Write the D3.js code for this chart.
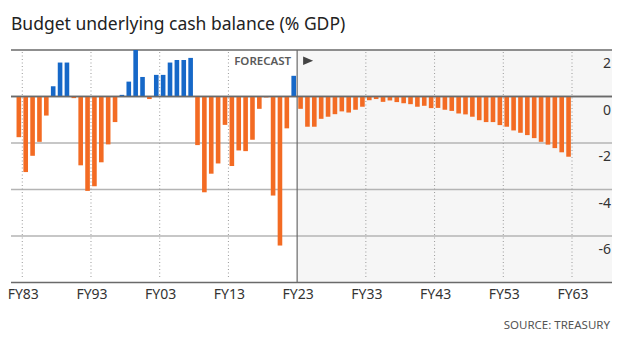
<!DOCTYPE html>
<html>
<head>
<meta charset="utf-8">
<script src="https://cdn.jsdelivr.net/npm/d3@7"></script>
<style>
    html, body { margin: 0; padding: 0; background: #fff; }
    #chart { width: 620px; height: 337px; }
    text { font-family: "Noto Sans", "Open Sans", sans-serif; }
</style>
</head>
<body>
<div id="chart"></div>
<script>
// 财年 FY83 - FY63
const years = d3.range(1983, 2064);

// 实际值 FY83 - FY23
const actualValues = [
    -1.75, -3.25, -2.55, -1.95, -0.82, 0.44, 1.46, 1.46, -0.07, -2.96,
    -4.06, -3.86, -2.83, -2.06, -1.10, 0.07, 0.64, 2.0, 0.84, -0.11,
    0.93, 0.93, 1.46, 1.57, 1.57, 1.66, -2.09, -4.12, -3.32, -2.88,
    -1.22, -2.99, -2.32, -2.35, -1.86, -0.53, -0.04, -4.26, -6.41, -1.37,
    0.89
];

// 预测值 FY24 - FY63
const forecastValues = [
    -0.53, -1.30, -1.30, -0.96, -0.87, -0.76, -0.64, -0.69, -0.57, -0.44,
    -0.16, -0.11, -0.23, -0.17, -0.24, -0.29, -0.33, -0.44, -0.40, -0.50,
    -0.49, -0.57, -0.62, -0.73, -0.77, -0.87, -1.02, -1.10, -1.10, -1.23,
    -1.30, -1.46, -1.56, -1.66, -1.79, -1.95, -2.07, -2.22, -2.40, -2.59
];

const xTickYears = [1983, 1993, 2003, 2013, 2023, 2033, 2043, 2053, 2063];
const yTicks = [2, 0, -2, -4, -6];
const forecastStart = 2023;

const width = 620;
const height = 337;
const plot = { left: 11, right: 612, top: 50, bottom: 282.5 };

const colors = {
    positive: '#1668c8',
    negative: '#f36b23',
    axisDark: '#6a6a6a',
    grid: '#b4b4b4',
    dotted: '#9a9a9a',
    text: '#333',
    muted: '#555',
    forecastBg: '#f6f6f6'
};

const fyLabel = y => 'FY' + String(y % 100).padStart(2, '0');

const data = years.map((y, i) => ({
    year: y,
    value: i < actualValues.length ? actualValues[i] : forecastValues[i - actualValues.length]
}));

const svg = d3.select('#chart')
    .append('svg')
    .attr('width', width)
    .attr('height', height)
    .attr('viewBox', [0, 0, width, height]);

const x = d3.scaleBand()
    .domain(years)
    .range([15.4, 572])
    .paddingInner(0.33)
    .paddingOuter(0.165);

// 刻度落在财年柱的右边界
const tickX = y => x(y) - x.step() * x.paddingInner() / 2 + x.step();

const yScale = d3.scaleLinear()
    .domain([2, -8])
    .range([plot.top, plot.bottom]);

// 预测区域背景
svg.append('rect')
    .attr('x', tickX(forecastStart))
    .attr('y', plot.top)
    .attr('width', plot.right - tickX(forecastStart))
    .attr('height', plot.bottom - plot.top)
    .attr('fill', colors.forecastBg);

// 横向网格线
svg.append('g')
    .selectAll('line')
    .data(yTicks.concat([-8]))
    .join('line')
    .attr('x1', plot.left)
    .attr('x2', plot.right)
    .attr('y1', d => yScale(d))
    .attr('y2', d => yScale(d))
    .attr('stroke', d => (d === 0 || d === 2 || d === -8) ? colors.axisDark : colors.grid)
    .attr('stroke-width', 1.5);

// 纵向点线
svg.append('g')
    .selectAll('line')
    .data(xTickYears.filter(y => y !== forecastStart))
    .join('line')
    .attr('x1', d => tickX(d))
    .attr('x2', d => tickX(d))
    .attr('y1', plot.top + 2)
    .attr('y2', plot.bottom - 3)
    .attr('stroke', colors.dotted)
    .attr('stroke-width', 1)
    .attr('stroke-dasharray', '1,2.5');

// 柱子
svg.append('g')
    .selectAll('rect')
    .data(data)
    .join('rect')
    .attr('x', d => x(d.year))
    .attr('width', x.bandwidth())
    .attr('y', d => yScale(Math.max(0, d.value)))
    .attr('height', d => Math.abs(yScale(d.value) - yScale(0)))
    .attr('fill', d => d.value >= 0 ? colors.positive : colors.negative);

// 零线盖在柱子上面
svg.append('line')
    .attr('x1', plot.left)
    .attr('x2', plot.right)
    .attr('y1', yScale(0))
    .attr('y2', yScale(0))
    .attr('stroke', colors.axisDark)
    .attr('stroke-width', 1.5);

// 预测分界线
svg.append('line')
    .attr('x1', tickX(forecastStart))
    .attr('x2', tickX(forecastStart))
    .attr('y1', plot.top)
    .attr('y2', plot.bottom)
    .attr('stroke', colors.axisDark)
    .attr('stroke-width', 1.2);

svg.append('text')
    .attr('x', tickX(forecastStart) - 6)
    .attr('y', 65)
    .attr('text-anchor', 'end')
    .attr('font-size', 11.5)
    .attr('font-weight', 600)
    .attr('fill', '#5a5a5a')
    .text('FORECAST');

svg.append('path')
    .attr('d', d3.line()([
        [tickX(forecastStart) + 6, 56.5],
        [tickX(forecastStart) + 16, 60.8],
        [tickX(forecastStart) + 6, 65]
    ]) + 'Z')
    .attr('fill', '#444');

// Y 轴标签
svg.append('g')
    .selectAll('text')
    .data(yTicks)
    .join('text')
    .attr('x', 611)
    .attr('y', d => yScale(d) + 18.3)
    .attr('text-anchor', 'end')
    .attr('font-size', 14)
    .attr('fill', colors.text)
    .text(d => d < 0 ? '-' + Math.abs(d) : d);

// X 轴标签
svg.append('g')
    .selectAll('text')
    .data(xTickYears)
    .join('text')
    .attr('x', d => tickX(d) + 1)
    .attr('y', 298.5)
    .attr('text-anchor', 'middle')
    .attr('font-size', 14)
    .attr('fill', colors.text)
    .text(fyLabel);

// 标题
svg.append('text')
    .attr('x', 11)
    .attr('y', 29.5)
    .attr('font-size', 17.5)
    .attr('fill', '#222')
    .text('Budget underlying cash balance (% GDP)');

// 来源
svg.append('text')
    .attr('x', 610)
    .attr('y', 328.5)
    .attr('text-anchor', 'end')
    .attr('font-size', 11.5)
    .attr('fill', colors.muted)
    .text('SOURCE: TREASURY');
</script>
</body>
</html>
